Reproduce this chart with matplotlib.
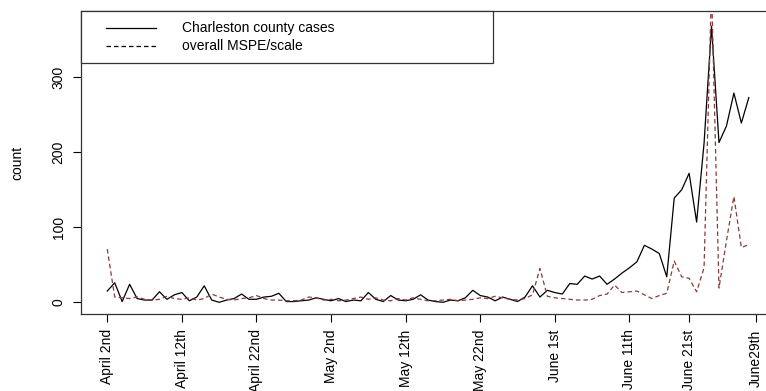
import numpy as np
import matplotlib
matplotlib.use("Agg")
import matplotlib.pyplot as plt
from matplotlib.lines import Line2D
from matplotlib.patches import Rectangle

plt.rcParams["font.family"] = ["Liberation Sans", "DejaVu Sans"]
plt.rcParams["font.size"] = 10

# daily Charleston county cases and the scaled overall MSPE
cases = [15, 26, 1, 24, 5, 3, 3, 14, 4, 10, 13, 2, 7, 22, 3, 0, 3, 5, 11, 4,
         4, 7, 8, 12, 1, 1, 2, 3, 6, 4, 2, 5, 1, 3, 2, 13, 4, 1, 9, 3,
         2, 4, 10, 3, 1, 0, 3, 2, 6, 16, 9, 7, 2, 7, 4, 1, 7, 22, 7, 16,
         13, 11, 25, 24, 35, 31, 35, 24, 31, 39, 46, 54, 76, 71, 65, 34, 139, 150, 172, 107,
         212, 368, 213, 235, 279, 239, 273]
mspe = [71, 7, 6, 5, 7, 4, 3, 4, 8, 5, 4, 6, 3, 5, 11, 7, 4, 3, 5, 6,
        9, 5, 3, 3, 2, 2, 3, 7, 6, 3, 4, 2, 3, 5, 7, 4, 6, 3, 2, 5,
        3, 6, 4, 2, 2, 3, 4, 2, 3, 4, 6, 5, 8, 6, 4, 3, 5, 10, 45, 8,
        6, 5, 4, 3, 3, 4, 9, 11, 23, 13, 14, 15, 10, 5, 9, 12, 55, 34, 32, 14,
        46, 420, 19, 82, 141, 73, 77]

tick_pos = [1, 11, 21, 31, 41, 51, 61, 71, 79, 88]
tick_labels = ["April 2nd", "April 12th", "April 22nd", "May 2nd", "May 12th",
               "May 22nd", "June 1st", "June 11th", "June 21st", "June29th"]
y_ticks = [0, 100, 200, 300]
legend_labels = ["Charleston county cases", "overall MSPE/scale"]

W, H = 766, 391
fig = plt.figure(figsize=(W / 100, H / 100), dpi=100)


def fx(px):
    return px / W


def fy(py):
    return 1 - py / H


# plot region runs off the right edge, like an R device cropped on export
ax = fig.add_axes([fx(81), fy(314), fx(790) - fx(81), fy(11) - fy(314)])

DASH = (3.6, 2.4)
x = np.arange(1, len(cases) + 1)
ax.plot(x, cases, color="black", lw=0.9)
ax.plot(x, mspe, color="#8b3a3a", lw=0.9, dashes=DASH)

ax.set_xlim(1 - 3.52, 92.52)
ax.set_ylim(-15.6, 388.4)

ax.set_xticks(tick_pos)
ax.set_xticklabels(tick_labels, rotation=90, va="top")
ax.set_yticks(y_ticks)
ax.set_yticklabels([str(v) for v in y_ticks], rotation=90, va="center")
ax.tick_params(axis="both", length=6, width=0.8, colors="black", labelsize=10)
ax.tick_params(axis="x", pad=5)
ax.tick_params(axis="y", pad=5)
ax.set_ylabel("count", fontsize=10, labelpad=20)

for sp in ax.spines.values():
    sp.set_linewidth(0.9)
    sp.set_color("#333333")

# legend box in the top-left corner of the plot region
fig.add_artist(Rectangle((fx(81), fy(63)), fx(493) - fx(81), fy(11) - fy(63),
                         transform=fig.transFigure, fill=True, facecolor="white",
                         edgecolor="#333333", lw=0.9))
for i, (lab, ls) in enumerate(zip(legend_labels, ["-", "--"])):
    yy = fy(28 + 18 * i)
    ln = Line2D([fx(106), fx(156)], [yy, yy], transform=fig.transFigure,
                color="black", lw=0.9)
    if ls == "--":
        ln.set_dashes(DASH)
    fig.add_artist(ln)
    fig.text(fx(182), yy, lab, va="center", ha="left", fontsize=10)

fig.savefig("out.png", dpi=100)
